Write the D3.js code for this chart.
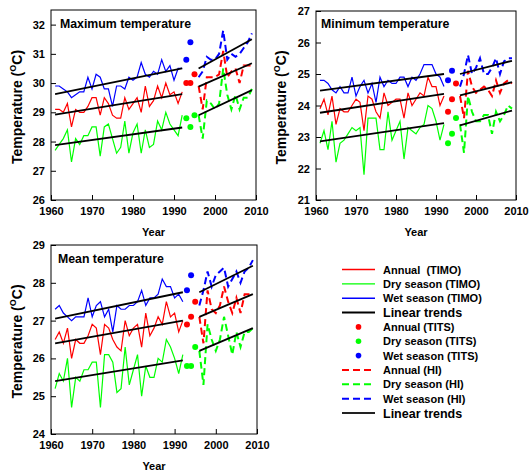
<!DOCTYPE html>
<head>
  <meta charset="utf-8">
  <script src="https://d3js.org/d3.v7.min.js"></script>
  <style>
    body { margin: 0; background: #fff; }
    svg { width: 529px; height: 473px; font-family: "Liberation Sans", Arial, sans-serif; font-weight: bold; }
    text { white-space: pre; }
  </style>
</head>
<body>
  <svg></svg>
  <script>
    // ---- years / categories
    const timoYears = [1961,1962,1963,1964,1965,1966,1967,1968,1969,1970,1971,1972,1973,1974,1975,1976,
      1977,1978,1979,1980,1981,1982,1983,1984,1985,1986,1987,1988,1989,1990,1991,1992];
    const titsYears = [1993, 1994, 1995];
    const hiYears = [1996,1997,1998,1999,2000,2001,2002,2003,2004,2005,2006,2007,2008,2009];
    const trendTimoYears = [1961, 1992];
    const trendHiYears = [1996, 2009];
    const xTicks = [1960, 1970, 1980, 1990, 2000, 2010];

    // ---- maximum temperature
    const maxAnnualTimo = [29.1,29.1,29.0,29.3,28.5,29.1,29.0,29.0,29.2,29.5,29.5,28.9,29.5,29.3,28.9,28.8,
      28.8,29.5,29.1,29.3,29.5,29.0,29.9,29.2,29.4,29.9,29.5,30.0,29.6,29.7,29.3,29.7];
    const maxDryTimo = [27.7,27.9,28.1,28.4,27.3,28.1,27.9,28.2,28.2,28.5,28.5,27.5,28.5,28.6,28.1,27.6,
      27.8,28.7,27.6,28.3,28.6,27.6,28.4,27.8,27.9,28.7,28.4,29.0,28.6,28.4,28.2,28.9];
    const maxWetTimo = [29.9,29.9,29.8,29.7,29.5,29.6,29.7,29.7,30.2,29.8,30.3,30.2,29.8,29.8,29.2,29.9,
      29.9,29.8,30.2,30.1,30.2,30.7,30.3,30.2,30.4,30.3,30.8,30.4,30.6,30.1,30.5,30.5];
    const maxAnnualTits = [30.0, 30.0, 30.3];
    const maxDryTits = [28.8, 28.5, 28.9];
    const maxWetTits = [30.8, 31.4, null];
    const maxAnnualHi = [29.9,29.1,30.2,30.2,30.2,30.3,31.1,30.2,30.4,30.5,30.0,30.6,30.6,30.6];
    const maxDryHi = [28.9,28.1,29.4,29.3,29.1,29.3,30.5,29.6,29.1,29.6,29.1,29.5,29.5,29.8];
    const maxWetHi = [30.2,30.4,30.9,30.8,30.8,31.0,31.8,30.8,31.0,30.9,31.0,31.2,31.4,31.7];
    const maxTrendAnnualTimo = [28.92, 29.62];
    const maxTrendDryTimo = [27.88, 28.48];
    const maxTrendWetTimo = [29.62, 30.5];
    const maxTrendAnnualHi = [29.88, 30.68];
    const maxTrendDryHi = [28.9, 29.76];
    const maxTrendWetHi = [30.5, 31.5];
    const maxYTicks = [26, 27, 28, 29, 30, 31, 32];

    // ---- minimum temperature
    const minAnnualTimo = [23.9,24.2,23.7,24.3,23.4,23.9,23.8,23.8,24.0,24.2,24.1,23.2,24.3,24.2,23.8,23.6,
      24.4,24.0,24.1,24.2,24.2,23.6,24.4,24.0,24.2,24.4,24.3,24.9,24.6,24.6,24.0,24.3];
    const minDryTimo = [22.8,23.2,22.6,23.5,22.2,22.8,22.9,23.1,23.3,23.2,23.3,21.8,23.6,23.6,23.6,22.6,
      22.6,23.8,22.9,23.2,23.5,22.3,23.3,23.2,23.1,23.3,23.4,24.0,23.9,23.5,22.9,23.4];
    const minWetTimo = [24.8,24.8,24.7,24.5,24.4,24.6,24.4,24.4,24.9,24.3,24.6,24.8,24.4,24.7,24.1,24.9,
      24.6,24.8,24.7,24.7,24.9,24.9,24.6,24.9,24.8,25.0,25.3,25.3,25.3,25.0,24.9,24.6];
    const minAnnualTits = [23.8, 24.2, 24.7];
    const minDryTits = [22.8, 23.1, 23.6];
    const minWetTits = [24.8, 25.1, null];
    const minAnnualHi = [24.3,23.6,25.1,24.6,24.4,24.5,24.6,24.5,24.3,24.8,24.4,24.7,24.8,24.7];
    const minDryHi = [23.4,22.5,24.3,23.8,23.5,23.5,23.7,23.7,23.1,23.8,23.5,23.7,24.0,23.9];
    const minWetHi = [24.6,25.0,25.6,25.0,25.2,25.5,25.0,25.0,25.2,25.5,25.0,25.4,25.5,25.5];
    const minTrendAnnualTimo = [23.77, 24.37];
    const minTrendDryTimo = [22.86, 23.44];
    const minTrendWetTimo = [24.47, 25.0];
    const minTrendAnnualHi = [24.32, 24.74];
    const minTrendDryHi = [23.37, 23.84];
    const minTrendWetHi = [25.0, 25.42];
    const minYTicks = [21, 22, 23, 24, 25, 26, 27];

    // ---- mean temperature
    const meanAnnualTimo = [26.5,26.7,26.4,26.8,26.0,26.5,26.4,26.4,26.6,26.9,26.8,26.1,26.9,26.8,26.5,26.3,
      26.2,27.0,26.6,26.8,26.9,26.3,27.2,26.6,26.8,27.1,26.9,27.5,27.1,27.2,26.7,27.0];
    const meanDryTimo = [25.2,25.6,25.4,26.0,24.7,25.5,25.4,25.7,25.7,25.9,25.9,24.7,26.1,26.1,25.9,25.1,
      25.2,26.3,25.3,25.7,26.1,25.0,25.8,25.5,25.5,26.0,25.9,26.5,26.3,26.0,25.6,26.1];
    const meanWetTimo = [27.3,27.4,27.2,27.1,27.0,27.1,27.1,27.1,27.6,27.1,27.4,27.5,27.1,27.3,26.7,27.4,
      27.3,27.3,27.4,27.4,27.5,27.8,27.4,27.6,27.6,27.7,28.1,27.9,27.9,27.6,27.7,27.5];
    const meanAnnualTits = [26.9, 27.1, 27.5];
    const meanDryTits = [25.8, 25.8, 26.3];
    const meanWetTits = [27.8, 28.2, null];
    const meanAnnualHi = [27.1,26.4,27.8,27.3,27.2,27.4,27.9,27.5,27.2,27.6,27.2,27.7,27.7,27.7];
    const meanDryHi = [26.2,25.3,26.9,26.5,26.2,26.5,27.1,26.6,26.1,26.7,26.3,26.7,26.7,26.8];
    const meanWetHi = [27.4,27.8,28.3,27.9,28.2,28.3,28.4,27.9,28.1,28.3,28.0,28.3,28.4,28.6];
    const meanTrendAnnualTimo = [26.4, 27.0];
    const meanTrendDryTimo = [25.4, 25.95];
    const meanTrendWetTimo = [27.05, 27.75];
    const meanTrendAnnualHi = [27.1, 27.7];
    const meanTrendDryHi = [26.2, 26.8];
    const meanTrendWetHi = [27.75, 28.45];
    const meanYTicks = [24, 25, 26, 27, 28, 29];

    // ---- legend
    const legendLabels = ['Annual  (TIMO)', 'Dry season (TIMO)', 'Wet season (TIMO)', 'Linear trends',
      'Annual (TITS)', 'Dry season (TITS)', 'Wet season (TITS)',
      'Annual (HI)', 'Dry season (HI)', 'Wet season (HI)', 'Linear trends'];
    const legendKinds = ['line', 'line', 'line', 'trend', 'dot', 'dot', 'dot', 'dash', 'dash', 'dash', 'trend'];

    const RED = '#ff0000', GREEN = '#00ff00', BLUE = '#0000ff';
    const legendColors = [RED, GREEN, BLUE, '#000', RED, GREEN, BLUE, RED, GREEN, BLUE, '#222'];

    const svg = d3.select('svg');

    const panels = [
      { title: 'Maximum temperature', x0: 51, x1: 256, y0: 200, y1: 10, yDomain: [26, 32.5], yTicks: maxYTicks,
        titleX: 60, titleY: 28, labelX: 17,
        timo: [maxAnnualTimo, maxDryTimo, maxWetTimo], tits: [maxAnnualTits, maxDryTits, maxWetTits],
        hi: [maxAnnualHi, maxDryHi, maxWetHi],
        trendTimo: [maxTrendAnnualTimo, maxTrendDryTimo, maxTrendWetTimo],
        trendHi: [maxTrendAnnualHi, maxTrendDryHi, maxTrendWetHi] },
      { title: 'Minimum temperature', x0: 316, x1: 516, y0: 200, y1: 11, yDomain: [21, 27], yTicks: minYTicks,
        titleX: 321, titleY: 28, labelX: 281,
        timo: [minAnnualTimo, minDryTimo, minWetTimo], tits: [minAnnualTits, minDryTits, minWetTits],
        hi: [minAnnualHi, minDryHi, minWetHi],
        trendTimo: [minTrendAnnualTimo, minTrendDryTimo, minTrendWetTimo],
        trendHi: [minTrendAnnualHi, minTrendDryHi, minTrendWetHi] },
      { title: 'Mean temperature', x0: 51, x1: 257, y0: 434, y1: 245, yDomain: [24, 29], yTicks: meanYTicks,
        titleX: 58, titleY: 263, labelX: 17,
        timo: [meanAnnualTimo, meanDryTimo, meanWetTimo], tits: [meanAnnualTits, meanDryTits, meanWetTits],
        hi: [meanAnnualHi, meanDryHi, meanWetHi],
        trendTimo: [meanTrendAnnualTimo, meanTrendDryTimo, meanTrendWetTimo],
        trendHi: [meanTrendAnnualHi, meanTrendDryHi, meanTrendWetHi] }
    ];
    const colors = [RED, GREEN, BLUE];

    panels.forEach(p => {
      const x = d3.scaleLinear().domain([1960, 2010]).range([p.x0, p.x1]);
      const y = d3.scaleLinear().domain(p.yDomain).range([p.y0, p.y1]);
      const g = svg.append('g');

      const line = (xs) => d3.line()
        .defined(d => d != null)
        .x((d, i) => x(xs[i]))
        .y(d => y(d));

      // TIMO solid lines
      p.timo.forEach((vals, k) => {
        g.append('path').datum(vals)
          .attr('d', line(timoYears))
          .attr('fill', 'none').attr('stroke', colors[k]).attr('stroke-width', 1.2);
      });
      // HI dashed lines
      p.hi.forEach((vals, k) => {
        g.append('path').datum(vals)
          .attr('d', line(hiYears))
          .attr('fill', 'none').attr('stroke', colors[k]).attr('stroke-width', 2)
          .attr('stroke-dasharray', '7,4');
      });
      // TITS dots
      p.tits.forEach((vals, k) => {
        g.selectAll(null)
          .data(vals.map((v, i) => ({ year: titsYears[i], v })).filter(d => d.v != null))
          .enter().append('circle')
          .attr('cx', d => x(d.year)).attr('cy', d => y(d.v)).attr('r', 3)
          .attr('fill', colors[k]);
      });
      // linear trends
      p.trendTimo.concat(p.trendHi).forEach((vals, k) => {
        const yrs = k < 3 ? trendTimoYears : trendHiYears;
        g.append('path').datum(vals)
          .attr('d', line(yrs))
          .attr('fill', 'none').attr('stroke', '#000').attr('stroke-width', 1.8);
      });

      // frame
      g.append('rect')
        .attr('x', p.x0).attr('y', p.y1)
        .attr('width', p.x1 - p.x0).attr('height', p.y0 - p.y1)
        .attr('fill', 'none').attr('stroke', '#000').attr('stroke-width', 1);

      const yAxis = g.append('g').attr('transform', `translate(${p.x0},0)`)
        .call(d3.axisLeft(y).tickValues(p.yTicks).tickSize(-5).tickPadding(6).tickFormat(d3.format('d')));
      const xAxis = g.append('g').attr('transform', `translate(0,${p.y0})`)
        .call(d3.axisBottom(x).tickValues(xTicks).tickSize(-5).tickPadding(7).tickFormat(d3.format('d')));
      [yAxis, xAxis].forEach(a => {
        a.select('.domain').remove();
        a.selectAll('text').attr('font-size', 11).attr('font-weight', 'bold')
          .attr('font-family', '"Liberation Sans", Arial, sans-serif').attr('fill', '#000');
      });

      g.append('text').attr('x', p.titleX).attr('y', p.titleY)
        .attr('font-size', 12.3).text(p.title);

      g.append('text').attr('x', (p.x0 + p.x1) / 2).attr('y', p.y0 + 35.5)
        .attr('text-anchor', 'middle').attr('font-size', 11).text('Year');

      const lab = g.append('text')
        .attr('transform', `translate(${p.labelX + 5},${(p.y0 + p.y1) / 2 + 2}) rotate(-90)`)
        .attr('text-anchor', 'middle').attr('font-size', 14);
      lab.append('tspan').text('Temperature (');
      lab.append('tspan').attr('font-size', 9).attr('dy', -6).text('O');
      lab.append('tspan').attr('dy', 6).text('C)');
    });

    // legend
    const ly = d3.scalePoint().domain(d3.range(legendLabels.length)).range([269.5, 413]);
    const leg = svg.append('g');
    legendLabels.forEach((label, i) => {
      const yy = ly(i);
      const kind = legendKinds[i];
      if (kind === 'dot') {
        leg.append('circle').attr('cx', 358.5).attr('cy', yy).attr('r', 2.8).attr('fill', legendColors[i]);
      } else {
        leg.append('line').attr('x1', 342).attr('x2', 375).attr('y1', yy).attr('y2', yy)
          .attr('stroke', legendColors[i])
          .attr('stroke-width', kind === 'line' ? 1.4 : 2)
          .attr('stroke-dasharray', kind === 'dash' ? '7,4' : null);
      }
      leg.append('text').attr('x', 383).attr('y', yy + (kind === 'trend' ? 4.5 : 4))
        .attr('font-size', kind === 'trend' ? 12.5 : 11).text(label);
    });
  </script>
</body>
